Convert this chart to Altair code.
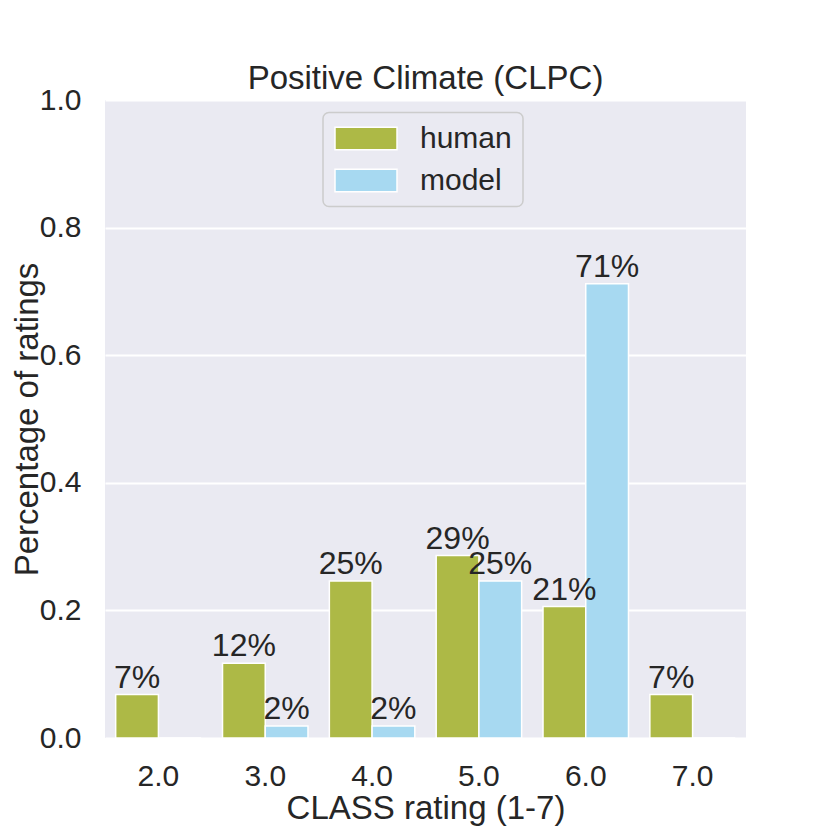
import altair as alt
import pandas as pd

ratings = ["2.0", "3.0", "4.0", "5.0", "6.0", "7.0"]
groups = ["human", "model"]
human_vals = [0.068, 0.117, 0.246, 0.286, 0.206, 0.068]
model_vals = [0.0, 0.019, 0.019, 0.246, 0.712, 0.0]
colors = ["#adb946", "#a7d9f1"]
y_ticks = [0.0, 0.2, 0.4, 0.6, 0.8, 1.0]

rows = []
for r, h, m in zip(ratings, human_vals, model_vals):
    rows.append({"rating": r, "group": "human", "value": h})
    rows.append({"rating": r, "group": "model", "value": m})
df = pd.DataFrame(rows)

FONT = "Liberation Sans"
TXT = "#262626"
W, H = 641, 638

x_enc = alt.X(
    "rating:N",
    sort=ratings,
    scale=alt.Scale(paddingInner=0.2, paddingOuter=0.1),
    axis=alt.Axis(
        title="CLASS rating (1-7)",
        labelAngle=0,
        labelFontSize=30,
        labelFont=FONT,
        labelColor=TXT,
        labelPadding=23,
        ticks=False,
        tickSize=0,
        domain=False,
        grid=False,
        titleFontSize=33,
        titleFont=FONT,
        titleFontWeight="normal",
        titleColor=TXT,
        titleX=W / 2,
        titleY=80.5,
        titleBaseline="alphabetic",
    ),
)
y_enc = alt.Y(
    "value:Q",
    scale=alt.Scale(domain=[0, 1], nice=False),
    axis=alt.Axis(
        title="Percentage of ratings",
        values=y_ticks,
        format=".1f",
        labelFontSize=30,
        labelFont=FONT,
        labelColor=TXT,
        labelPadding=24,
        ticks=False,
        tickSize=0,
        domain=False,
        grid=True,
        gridColor="white",
        gridWidth=2,
        titleFontSize=33,
        titleFont=FONT,
        titleFontWeight="normal",
        titleColor=TXT,
        titleX=-68,
        titleY=H / 2,
        titleBaseline="alphabetic",
    ),
)
xoff = alt.XOffset("group:N", sort=groups)

bars = alt.Chart(df).mark_bar(stroke="white", strokeWidth=1.5).encode(
    x=x_enc,
    y=y_enc,
    xOffset=xoff,
    color=alt.Color(
        "group:N",
        sort=groups,
        scale=alt.Scale(domain=groups, range=colors),
        legend=alt.Legend(
            title=None,
            orient="none",
            legendX=218,
            legendY=12.5,
            symbolType="M-1,-0.366L1,-0.366L1,0.366L-1,0.366Z",
            symbolSize=3844,
            symbolStrokeColor="white",
            symbolStrokeWidth=1.5,
            symbolOpacity=1,
            labelFontSize=30,
            labelFont=FONT,
            labelColor=TXT,
            labelOffset=22,
            clipHeight=30,
            padding=11,
            rowPadding=12,
            fillColor="#eaeaf2",
            strokeColor="#cccccc",
            cornerRadius=6,
        ),
    ),
)

labels = (
    alt.Chart(df)
    .transform_filter("datum.value > 0")
    .transform_calculate(label="format(datum.value, '.0%')")
    .mark_text(baseline="bottom", align="center", fontSize=32, font=FONT, color=TXT)
    .encode(
        x=alt.X("rating:N", sort=ratings),
        y=alt.Y("value:Q"),
        xOffset=xoff,
        text="label:N",
    )
)

chart = (
    alt.layer(bars, labels)
    .properties(
        width=W,
        height=H,
        autosize=alt.AutoSizeParams(type="none"),
        padding={"left": 97, "top": 92, "right": 30, "bottom": 100},
        title=alt.TitleParams(
            "Positive Climate (CLPC)",
            fontSize=33,
            font=FONT,
            fontWeight="normal",
            color=TXT,
            frame="group",
            anchor="middle",
            baseline="alphabetic",
            offset=6,
            dy=43,
        ),
        background="white",
    )
    .configure_view(fill="#eaeaf2", stroke=None)
    .configure_legend(strokeWidth=1.5)
)

chart.save("out.html", embed_options={"renderer": "svg", "actions": False})
